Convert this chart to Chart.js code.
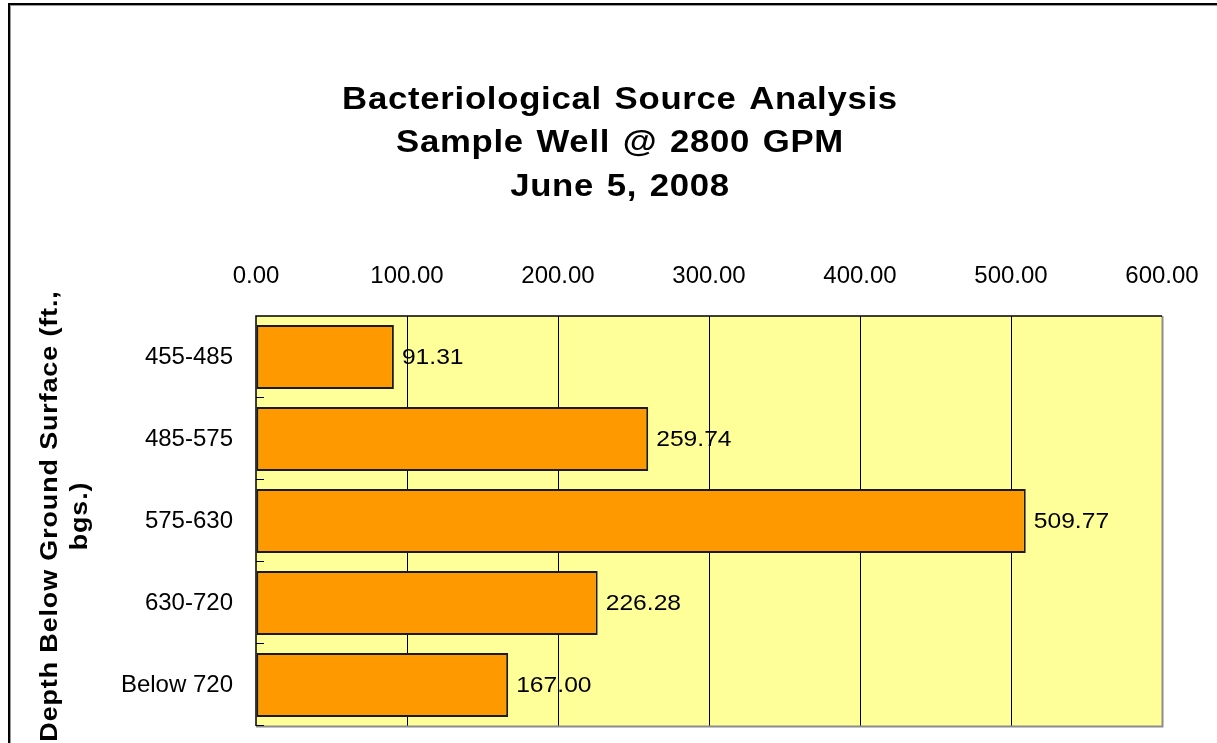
<!DOCTYPE html>
<html>
<head>
<meta charset="utf-8">
<script src="https://cdn.jsdelivr.net/npm/chart.js@4.4.1/dist/chart.umd.min.js"></script>
<style>
  html, body { margin: 0; padding: 0; background: #fff; overflow: hidden; }
  #wrap { width: 1217px; height: 743px; }
</style>
</head>
<body>
<div id="wrap"><canvas id="chart" width="1217" height="743"></canvas></div>
<script>
// Données
const depths = ['455-485', '485-575', '575-630', '630-720', 'Below 720'];
const counts = [91.31, 259.74, 509.77, 226.28, 167.00];
const titleLines = ['Bacteriological Source Analysis', 'Sample Well @ 2800 GPM', 'June 5, 2008'];
const yTitleLines = ['Depth Below Ground Surface (ft.,', 'bgs.)'];
const xTicksMax = 600;

const FONT = "'Liberation Sans', Arial, sans-serif";
const STRETCH = 1.12; // le texte d'origine est un peu élargi

// écrit un texte élargi horizontalement autour de (x, y)
function stretchedText(ctx, text, x, y, align) {
  ctx.save();
  ctx.translate(x, y);
  ctx.scale(STRETCH, 1);
  ctx.textAlign = align;
  ctx.fillText(text, 0, 0);
  ctx.restore();
}

// Fond jaune, cadre extérieur, titres, petits traits et étiquettes
const decor = {
  id: 'decor',
  beforeDraw(chart) {
    const { ctx, chartArea: a } = chart;
    ctx.save();
    ctx.fillStyle = '#ffffff';
    ctx.fillRect(0, 0, chart.width, chart.height);
    // cadre extérieur (coupé à droite et en bas)
    ctx.strokeStyle = '#9a9a9a';
    ctx.lineWidth = 1;
    ctx.strokeRect(10.5, 5.5, chart.width + 20, chart.height + 20);
    ctx.strokeStyle = '#000';
    ctx.lineWidth = 2;
    ctx.strokeRect(9, 4, chart.width + 20, chart.height + 20);
    // zone de tracé
    ctx.fillStyle = '#FFFF99';
    ctx.fillRect(a.left, a.top, a.right - a.left, a.bottom - a.top);
    ctx.restore();
  },
  afterDatasetsDraw(chart) {
    const { ctx, chartArea: a } = chart;
    ctx.save();
    // bordure de la zone de tracé
    ctx.lineWidth = 2;
    ctx.strokeStyle = '#8c8c8c';
    ctx.beginPath();
    ctx.moveTo(a.right + 0.5, a.top);
    ctx.lineTo(a.right + 0.5, a.bottom + 0.5);
    ctx.lineTo(a.left, a.bottom + 0.5);
    ctx.stroke();
    ctx.lineWidth = 1.5;
    ctx.strokeStyle = '#000';
    ctx.beginPath();
    ctx.moveTo(a.left, a.bottom);
    ctx.lineTo(a.left, a.top);
    ctx.lineTo(a.right, a.top);
    ctx.stroke();
    // petits traits vers l'intérieur entre les catégories
    const n = depths.length;
    const h = (a.bottom - a.top) / n;
    ctx.lineWidth = 1;
    for (let i = 1; i <= n; i++) {
      const y = Math.round(a.top + i * h) - 0.5;
      ctx.beginPath();
      ctx.moveTo(a.left, y);
      ctx.lineTo(a.left + 8, y);
      ctx.stroke();
    }
    // étiquettes de valeurs
    ctx.fillStyle = '#000';
    ctx.font = '22px ' + FONT;
    ctx.textBaseline = 'middle';
    chart.getDatasetMeta(0).data.forEach((bar, i) => {
      stretchedText(ctx, counts[i].toFixed(2), bar.x + 8, bar.y + 1, 'left');
    });
    ctx.restore();
  },
  afterDraw(chart) {
    const { ctx } = chart;
    ctx.save();
    ctx.fillStyle = '#000';
    // titre principal
    ctx.font = 'bold 31px ' + FONT;
    ctx.letterSpacing = '0.65px';
    ctx.wordSpacing = '2px';
    ctx.textBaseline = 'alphabetic';
    titleLines.forEach((t, i) => stretchedText(ctx, t, 620, 108.5 + i * 43.5, 'center'));
    // titre de l'axe vertical
    ctx.font = 'bold 24px ' + FONT;
    ctx.letterSpacing = '0.8px';
    ctx.wordSpacing = '0px';
    ctx.textBaseline = 'middle';
    yTitleLines.forEach((t, i) => {
      ctx.save();
      ctx.translate(50 + i * 30, 516);
      ctx.rotate(-Math.PI / 2);
      stretchedText(ctx, t, 0, 0, 'center');
      ctx.restore();
    });
    ctx.restore();
  }
};

const ctx = document.getElementById('chart').getContext('2d');
new Chart(ctx, {
  type: 'bar',
  data: {
    labels: depths,
    datasets: [{
      data: counts,
      backgroundColor: '#FF9900',
      borderColor: '#1a1a1a',
      borderWidth: 2,
      borderSkipped: false,
      categoryPercentage: 1,
      barPercentage: 0.78
    }]
  },
  options: {
    indexAxis: 'y',
    responsive: false,
    animation: false,
    layout: { padding: { left: 0, right: 55, top: 0, bottom: 17 } },
    plugins: {
      legend: { display: false },
      title: { display: false },
      tooltip: { enabled: false }
    },
    scales: {
      x: {
        position: 'top',
        min: 0,
        max: xTicksMax,
        ticks: {
          stepSize: 100,
          padding: 25,
          color: '#000',
          font: { family: FONT, size: 24 },
          callback: v => v.toFixed(2)
        },
        grid: {
          drawTicks: false,
          color: c => (c.tick && c.tick.value > 0 && c.tick.value < xTicksMax) ? '#000' : 'transparent',
          lineWidth: 1
        },
        border: { display: false },
        afterFit: s => {
          s.height = 316;
          s.paddingLeft = 0; s.paddingRight = 0;
        }
      },
      y: {
        ticks: {
          padding: 23,
          color: '#000',
          font: { family: FONT, size: 24 }
        },
        grid: { display: false, drawTicks: false },
        border: { display: false },
        afterFit: s => {
          s.width = 256;
          s.paddingTop = 0; s.paddingBottom = 0;
        }
      }
    }
  },
  plugins: [decor]
});
</script>
</body>
</html>
